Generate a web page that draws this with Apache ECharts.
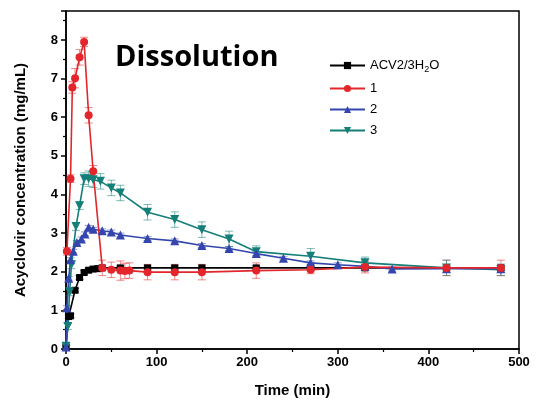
<!DOCTYPE html>
<html><head><meta charset="utf-8">
<script src="https://cdn.jsdelivr.net/npm/echarts@6/dist/echarts.min.js"></script>
<style>html,body{margin:0;padding:0;background:#fff}#c{width:538px;height:419px}</style>
</head><body><div id="c"></div>
<script>
// Time (min) and concentration (mg/mL) per series
const acvTime = [0,3,5,10,15,20,25,30,35,40,60,90,120,150,210,270,330,420,480];
const acvConc = [0.05,0.84,0.86,1.52,1.85,1.98,2.04,2.07,2.08,2.1,2.1,2.1,2.1,2.1,2.1,2.1,2.1,2.1,2.1];
const acvErr  = [0.03,0.05,0.05,0.05,0.05,0.05,0.05,0.05,0.05,0.05,0.05,0.05,0.05,0.05,0.05,0.05,0.05,0.05,0.05];

const s1Time = [1,5,7,10,15,20,25,30,40,50,60,65,70,90,120,150,210,270,330,420,480];
const s1Conc = [2.53,4.41,6.77,7.01,7.55,7.95,6.05,4.6,2.1,2.05,2.03,2.02,2.03,1.99,1.99,1.99,2.03,2.05,2.12,2.1,2.1];
const s1Err  = [0.1,0.1,0.15,0.25,0.2,0.12,0.2,0.15,0.2,0.2,0.25,0.2,0.2,0.2,0.2,0.2,0.2,0.1,0.15,0.2,0.2];

const s2Time = [0,1,3,5,8,12,17,21,25,30,40,50,60,90,120,150,180,210,240,270,300,330,360,420,480];
const s2Conc = [0.05,1.07,1.83,2.31,2.53,2.76,2.85,2.98,3.15,3.1,3.06,3.03,2.95,2.86,2.8,2.68,2.6,2.47,2.35,2.23,2.18,2.14,2.07,2.08,2.08];
const s2Err  = [0.03,0.05,0.05,0.05,0.05,0.05,0.05,0.05,0.05,0.05,0.05,0.05,0.05,0.05,0.05,0.05,0.05,0.05,0.05,0.05,0.05,0.05,0.05,0.05,0.05];

const s3Time = [0,2,4,6,11,15,20,25,30,38,50,60,90,120,150,180,210,270,330,420,480];
const s3Conc = [0.07,0.58,1.48,2.18,3.17,3.71,4.41,4.41,4.38,4.34,4.17,4.04,3.54,3.35,3.09,2.85,2.52,2.4,2.23,2.1,2.05];
const s3Err  = [0.05,0.08,0.1,0.1,0.1,0.1,0.15,0.2,0.2,0.2,0.2,0.2,0.2,0.2,0.2,0.2,0.15,0.2,0.15,0.2,0.15];

const xTicks = [0,100,200,300,400,500];
const yTicks = [0,1,2,3,4,5,6,7,8];

const C_BLACK = '#000000', C_RED = '#e3262b', C_BLUE = '#3446ad', C_TEAL = '#147f78';

function pts(t, v){ return t.map((x,i)=>[x, v[i]]); }
function errData(t, v, e){ return t.map((x,i)=>[x, v[i]-e[i], v[i]+e[i]]); }

function errSeries(t, v, e, color){
  return {
    type:'custom', silent:true, z:1,
    renderItem:function(params, api){
      const x = api.value(0);
      const lo = api.coord([x, api.value(1)]);
      const hi = api.coord([x, api.value(2)]);
      const w = 4;
      const st = {stroke: color, lineWidth: 1, opacity: 0.55};
      return {type:'group', children:[
        {type:'line', shape:{x1:lo[0],y1:lo[1],x2:hi[0],y2:hi[1]}, style:st},
        {type:'line', shape:{x1:hi[0]-w,y1:hi[1],x2:hi[0]+w,y2:hi[1]}, style:st},
        {type:'line', shape:{x1:lo[0]-w,y1:lo[1],x2:lo[0]+w,y2:lo[1]}, style:st}
      ]};
    },
    encode:{x:0, y:[1,2]},
    data: errData(t, v, e)
  };
}

function lineSeries(name, t, v, color, symbol, size){
  return {
    name:name, type:'line', z:3, data: pts(t, v),
    symbol: symbol, symbolSize: size,
    lineStyle:{color:color, width:1.6},
    itemStyle:{color:color},
    emphasis:{disabled:true}, animation:false
  };
}

const chart = echarts.init(document.getElementById('c'), null, {renderer:'canvas'});
chart.setOption({
  animation:false,
  backgroundColor:'#ffffff',
  grid:{left:66, right:19, top:11, bottom:70, show:true, borderColor:'#000', borderWidth:1.5, backgroundColor:'transparent'},
  title:{text:'Dissolution', left:110, top:38,
    textStyle:{fontFamily:'Open Sans', fontWeight:'bold', fontSize:29, color:'#000'}},
  legend:{
    orient:'vertical', left:324, top:54, itemGap:8, itemWidth:35, itemHeight:9,
    data:['ACV2/3H2O','1','2','3'],
    formatter:function(n){ return n==='ACV2/3H2O' ? '{a|ACV2/3H}{s|2}{a|O}' : '{a|'+n+'}'; },
    textStyle:{rich:{
      a:{fontFamily:'Liberation Sans', fontSize:13, color:'#000', padding:[0,0,0,0]},
      s:{fontFamily:'Liberation Sans', fontSize:9, color:'#000', verticalAlign:'bottom', padding:[8,0,0,0]}
    }}
  },
  xAxis:{type:'value', min:0, max:500, interval:100,
    name:'Time (min)', nameLocation:'middle', nameGap:34,
    nameTextStyle:{fontFamily:'Liberation Sans', fontWeight:'bold', fontSize:15, color:'#000'},
    axisLine:{show:true, onZero:false, lineStyle:{color:'#000', width:1.5}},
    axisTick:{show:true, inside:false, length:5, lineStyle:{color:'#000', width:1.5}},
    minorTick:{show:true, splitNumber:2, length:3, lineStyle:{color:'#000', width:1.2}},
    splitLine:{show:false},
    axisLabel:{fontFamily:'Liberation Sans', fontWeight:'bold', fontSize:13, color:'#000', margin:7,
      formatter:function(v){ return xTicks.indexOf(v)>=0 ? String(v) : ''; }}
  },
  yAxis:{type:'value', min:0, max:8.75, interval:1,
    name:'Acyclovir concentration (mg/mL)', nameLocation:'middle', nameGap:38,
    nameTextStyle:{fontFamily:'Liberation Sans', fontWeight:'bold', fontSize:15, color:'#000'},
    axisLine:{show:true, onZero:false, lineStyle:{color:'#000', width:1.5}},
    axisTick:{show:true, inside:false, length:5, lineStyle:{color:'#000', width:1.5}},
    minorTick:{show:true, splitNumber:2, length:3, lineStyle:{color:'#000', width:1.2}},
    splitLine:{show:false},
    axisLabel:{fontFamily:'Liberation Sans', fontWeight:'bold', fontSize:13, color:'#000', margin:8,
      showMaxLabel:false,
      formatter:function(v){ return yTicks.indexOf(v)>=0 ? String(v) : ''; }}
  },
  series:[
    errSeries(acvTime, acvConc, acvErr, C_BLACK),
    errSeries(s1Time, s1Conc, s1Err, C_RED),
    errSeries(s2Time, s2Conc, s2Err, C_BLUE),
    errSeries(s3Time, s3Conc, s3Err, C_TEAL),
    lineSeries('ACV2/3H2O', acvTime, acvConc, C_BLACK, 'rect', 7),
    lineSeries('3', s3Time, s3Conc, C_TEAL, 'path://M0,0 L10,0 L5,9 Z', 9),
    lineSeries('2', s2Time, s2Conc, C_BLUE, 'triangle', 9),
    lineSeries('1', s1Time, s1Conc, C_RED, 'circle', 8)
  ]
});
</script></body></html>
